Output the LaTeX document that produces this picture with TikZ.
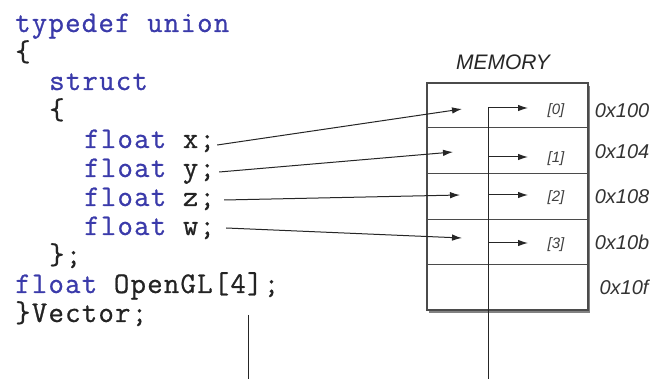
\documentclass[tikz,border=0pt]{standalone}
\usepackage{fontspec}
\setmainfont{Liberation Sans}
\newfontfamily\codefont[FakeBold=0.7,LetterSpace=4]{Latin Modern Mono}
\usetikzlibrary{arrows.meta,shadows,calc}
\definecolor{kw}{RGB}{58,58,170}
\definecolor{txt}{RGB}{35,35,35}
\definecolor{boxline}{RGB}{75,75,75}
\newcommand{\kwd}[1]{\textcolor{kw}{#1}}
\begin{document}
\begin{tikzpicture}[x=1pt,y=-1pt,
  code/.style={anchor=base west, inner sep=0pt, text=txt, text height=18pt, text depth=5pt,
    font=\codefont\fontsize{30}{30}\selectfont},
  conn/.style={line width=1pt, draw=black!85, -{Latex[length=10pt,width=6.5pt]}},
  plain/.style={line width=1pt, draw=black!85},
  membox/.style={draw=boxline, line width=1.4pt, fill=white, inner sep=0pt,
    minimum width=161pt, minimum height=227pt,
    drop shadow={shadow xshift=1.5pt, shadow yshift=-3.5pt, opacity=0.65, fill=black!75}},
  rowline/.style={draw=boxline, line width=1pt},
  idx/.style={font=\itshape\fontsize{15}{15}\selectfont, text=black!75, inner sep=0pt},
  addr/.style={font=\itshape\fontsize{20}{20}\selectfont, text=black!80, inner sep=0pt},
  title/.style={font=\itshape\fontsize{21}{21}\selectfont, text=black!85, inner sep=0pt}]
\useasboundingbox (0,0) rectangle (656,379);
\fill[white] (0,0) rectangle (656,379);

% code
\node[code] (l0) at (15,32) {\kwd{typedef union}};
\node[code] (l1) at (15,61) {\{};
\node[code] (l2) at (49,90) {\kwd{struct}};
\node[code] (l3) at (49,119) {\{};
\node[code] (fx) at (84,148) {\kwd{float} x;};
\node[code] (fy) at (84,177) {\kwd{float} y;};
\node[code] (fz) at (84,206) {\kwd{float} z;};
\node[code] (fw) at (84,235) {\kwd{float} w;};
\node[code] (l8) at (49,264) {\};};
\node[code] (ogl) at (15,293) {\kwd{float} OpenGL[4];};
\node[code] (vec) at (15,322) {\}Vector;};

% memory
\node[title] (memt) at (503,62) {MEMORY};
\node[membox] (mem) at (507.5,196.5) {};
\foreach \yy in {128,174,220,265} {
  \draw[rowline] (mem.west |- 0,\yy) -- (mem.east |- 0,\yy);
}
\node[addr] (a0) at (622,111) {0x100};
\node[addr] (a1) at (622,152) {0x104};
\node[addr] (a2) at (622,197) {0x108};
\node[addr] (a3) at (622,242) {0x10b};
\node[addr] (a4) at (624,287) {0x10f};

\node[idx] (i0) at (556,111) {[0]};
\node[idx] (i1) at (556,159) {[1]};
\node[idx] (i2) at (556,198) {[2]};
\node[idx] (i3) at (556,245) {[3]};

% arrow tips of struct members
\coordinate (tx) at (462,109);
\coordinate (ty) at (453,152);
\coordinate (tz) at (460,195);
\coordinate (tw) at (462,238);
\draw[conn] ([xshift=2pt,yshift=3pt]fx.base east) -- (tx);
\draw[conn] ([xshift=4pt,yshift=5pt]fy.base east) -- (ty);
\draw[conn] ([xshift=9pt,yshift=6pt]fz.base east) -- (tz);
\draw[conn] ([xshift=11pt,yshift=7pt]fw.base east) -- (tw);

% OpenGL array
\coordinate (gtop) at (248,315);
\coordinate (gbot) at (248,379);
\draw[plain] (gtop) -- (gbot);

\coordinate (vb) at (488,379);
\coordinate (v0) at (488,108);
\coordinate (v1) at (488,157);
\coordinate (v2) at (488,195);
\coordinate (v3) at (488,243);
\coordinate (e0) at (528,108);
\coordinate (e1) at (528,157);
\coordinate (e2) at (528,195);
\coordinate (e3) at (528,243);
\draw[conn] (vb) -- (v0) -- (e0);
\draw[conn] (v1) -- (e1);
\draw[conn] (v2) -- (e2);
\draw[conn] (v3) -- (e3);
\end{tikzpicture}
\end{document}
